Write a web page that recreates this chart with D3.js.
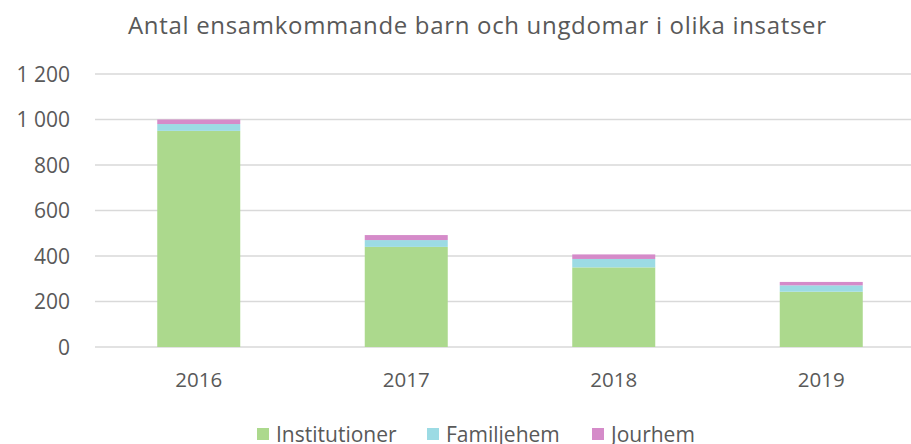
<!DOCTYPE html>
<html>
<head>
<meta charset="utf-8">
<script src="https://cdn.jsdelivr.net/npm/d3@7"></script>
<style>
  body { margin: 0; background: #fff; }
  text { font-family: "Open Sans", "Noto Sans", sans-serif; fill: #595959; }
</style>
</head>
<body>
<div id="chart"></div>
<script>
// data
const years = ["2016", "2017", "2018", "2019"];
const institutioner = [950, 440, 350, 243];
const familjehem = [30, 30, 37, 28];
const jourhem = [20, 22, 20, 15];
const seriesNames = ["Institutioner", "Familjehem", "Jourhem"];
const seriesColors = ["#acd98d", "#9cdbe4", "#d58bc9"];
const yTicks = [0, 200, 400, 600, 800, 1000, 1200];

const width = 911, height = 444;
const margin = { top: 74, right: -14, bottom: 97, left: 95 };

const rows = years.map((y, i) => ({
    year: y,
    Institutioner: institutioner[i],
    Familjehem: familjehem[i],
    Jourhem: jourhem[i]
}));

const stacked = d3.stack().keys(seriesNames)(rows);

const x = d3.scaleBand()
    .domain(years)
    .range([margin.left, width - margin.right])
    .paddingInner(0.6)
    .paddingOuter(0.3);

const y = d3.scaleLinear()
    .domain([0, 1200])
    .range([height - margin.bottom, margin.top]);

const fmt = d3.formatLocale({ decimal: ",", thousands: "\u00a0", grouping: [3], currency: ["", " kr"] }).format(",.0f");

const svg = d3.select("#chart").append("svg")
    .attr("width", width)
    .attr("height", height);

// gridlines
svg.append("g")
    .selectAll("line")
    .data(yTicks)
    .enter().append("line")
    .attr("x1", margin.left)
    .attr("x2", width)
    .attr("y1", d => y(d))
    .attr("y2", d => y(d))
    .attr("stroke", "#d9d9d9")
    .attr("stroke-width", 1.5);

// y labels
svg.append("g")
    .selectAll("text")
    .data(yTicks)
    .enter().append("text")
    .attr("x", 70)
    .attr("y", d => y(d) + 7.5)
    .attr("text-anchor", "end")
    .style("font-size", "21px")
    .text(d => fmt(d));

// bars
svg.append("g")
    .selectAll("g")
    .data(stacked)
    .enter().append("g")
    .attr("fill", (d, i) => seriesColors[i])
    .selectAll("rect")
    .data(d => d)
    .enter().append("rect")
    .attr("x", d => x(d.data.year))
    .attr("width", x.bandwidth())
    .attr("y", d => y(d[1]))
    .attr("height", d => y(d[0]) - y(d[1]));

// x labels
svg.append("g")
    .selectAll("text")
    .data(years)
    .enter().append("text")
    .attr("x", d => x(d) + x.bandwidth() / 2)
    .attr("y", 387)
    .attr("text-anchor", "middle")
    .style("font-size", "20.5px")
    .text(d => d);

// title
svg.append("text")
    .attr("x", 128)
    .attr("y", 34)
    .attr("textLength", 698)
    .attr("lengthAdjust", "spacing")
    .style("font-size", "24px")
    .text("Antal ensamkommande barn och ungdomar i olika insatser");

// legend
const legendX = [257, 427, 592];
const legend = svg.append("g")
    .selectAll("g")
    .data(seriesNames)
    .enter().append("g")
    .attr("transform", (d, i) => "translate(" + legendX[i] + ",0)");

legend.append("rect")
    .attr("x", 0)
    .attr("y", 428)
    .attr("width", 12)
    .attr("height", 12)
    .attr("fill", (d, i) => seriesColors[i]);

legend.append("text")
    .attr("x", 19)
    .attr("y", 442)
    .style("font-size", "21px")
    .text(d => d);
</script>
</body>
</html>
